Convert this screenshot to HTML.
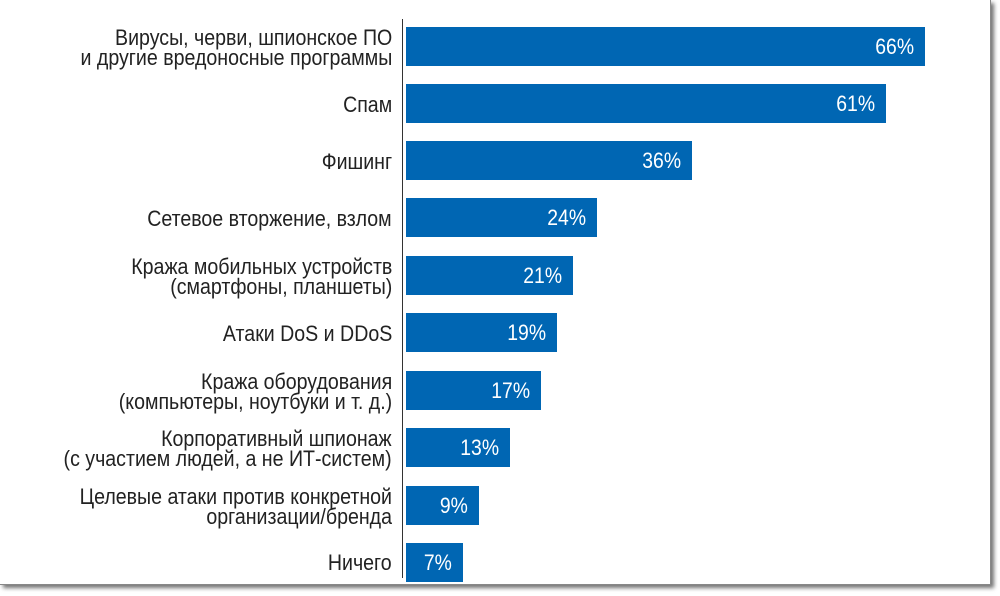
<!DOCTYPE html>
<html><head><meta charset="utf-8"><style>
body{margin:0;width:1000px;height:596px;background:#fff;position:relative;overflow:hidden;font-family:"Liberation Sans Narrow","Liberation Sans",sans-serif;}
.frame{position:absolute;left:0;top:0;width:990px;height:584px;background:#fff;border-right:1px solid #888;border-bottom:1px solid #888;box-shadow:3px 3px 4px rgba(0,0,0,0.55);}
.axis{position:absolute;left:402px;top:19px;width:1px;height:559px;background:#333;}
.bar{position:absolute;left:406px;height:39px;background:#0066b3;color:#fff;font-size:22px;text-align:right;line-height:39px;box-sizing:border-box;padding-right:11px;}
.bar span{display:inline-block;transform:scaleX(0.88);transform-origin:right center;}
.lab{position:absolute;right:608px;font-size:22px;line-height:20px;text-align:right;color:#222;white-space:nowrap;transform:translateY(-50%) scaleX(0.89);transform-origin:right center;}
</style></head><body>
<div class="frame"></div>
<div class="axis"></div>
<div class="bar" style="top:27px;width:519px"><span>66%</span></div>
<div class="bar" style="top:84px;width:480px"><span>61%</span></div>
<div class="bar" style="top:141px;width:286px"><span>36%</span></div>
<div class="bar" style="top:198px;width:191px"><span>24%</span></div>
<div class="bar" style="top:256px;width:167px"><span>21%</span></div>
<div class="bar" style="top:313px;width:151px"><span>19%</span></div>
<div class="bar" style="top:371px;width:135px"><span>17%</span></div>
<div class="bar" style="top:428px;width:104px"><span>13%</span></div>
<div class="bar" style="top:486px;width:73px"><span>9%</span></div>
<div class="bar" style="top:543px;width:57px"><span>7%</span></div>
<div class="lab" style="top:48px">Вирусы, черви, шпионское ПО<br>и другие вредоносные программы</div>
<div class="lab" style="top:105px">Спам</div>
<div class="lab" style="top:162px">Фишинг</div>
<div class="lab" style="top:219px">Сетевое вторжение, взлом</div>
<div class="lab" style="top:277px">Кража мобильных устройств<br>(смартфоны, планшеты)</div>
<div class="lab" style="top:334px">Атаки DoS и DDoS</div>
<div class="lab" style="top:392px">Кража оборудования<br>(компьютеры, ноутбуки и т. д.)</div>
<div class="lab" style="top:449px">Корпоративный шпионаж<br>(с участием людей, а не ИТ-систем)</div>
<div class="lab" style="top:507px">Целевые атаки против конкретной<br>организации/бренда</div>
<div class="lab" style="top:563px">Ничего</div>
</body></html>
